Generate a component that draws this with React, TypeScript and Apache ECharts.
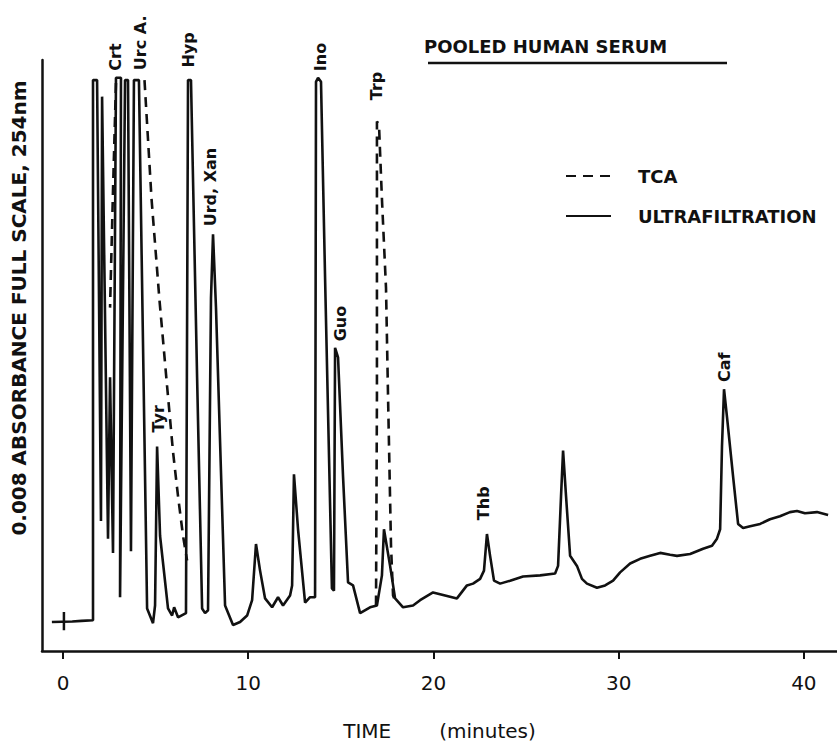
import React, { useEffect, useRef } from "react";
import * as echarts from "echarts";

// Time axis ticks (minutes)
const timeTicks = [0, 10, 20, 30, 40];

// Ultrafiltration trace: [time (min), absorbance (% full scale)]
const ultrafiltration: [number, number][] = [
  [-0.6, 4.9], [0.5, 5.0], [1.0, 5.1], [1.62, 5.2], [1.62, 96.6], [1.84, 96.6],
  [2.05, 22.0], [2.11, 93.8], [2.43, 19.0], [2.54, 46.3], [2.7, 16.6],
  [2.86, 97.0], [3.13, 97.0], [3.08, 9.1], [3.35, 96.6], [3.51, 96.6],
  [3.67, 16.9], [3.83, 96.6], [4.1, 96.6], [4.54, 7.2], [4.86, 4.7],
  [4.97, 7.7], [5.08, 34.6], [5.24, 19.5], [5.67, 7.2], [5.89, 6.0],
  [6.0, 7.4], [6.21, 5.7], [6.64, 6.4], [6.75, 96.6], [6.91, 96.6],
  [7.24, 46.3], [7.51, 7.2], [7.67, 6.4], [7.83, 6.9], [7.99, 59.7],
  [8.1, 70.5], [8.26, 58.1], [8.75, 7.7], [9.18, 4.4], [9.56, 4.9],
  [9.94, 6.0], [10.21, 8.6], [10.42, 18.1], [10.64, 13.6], [10.91, 8.9],
  [11.29, 7.4], [11.61, 9.1], [11.88, 7.7], [12.26, 9.4], [12.37, 11.1],
  [12.47, 29.9], [12.69, 20.6], [13.07, 8.2], [13.34, 9.1], [13.61, 9.1],
  [13.66, 96.3], [13.77, 97.0], [13.93, 96.3], [14.15, 63.1], [14.52, 10.6],
  [14.63, 10.2], [14.69, 51.3], [14.85, 49.7], [15.12, 29.5], [15.39, 11.6],
  [15.66, 11.1], [16.04, 6.4], [16.58, 7.4], [16.95, 7.7], [17.22, 12.8],
  [17.33, 20.6], [17.66, 14.4], [17.93, 8.9], [18.36, 7.4], [18.9, 7.7],
  [19.28, 8.6], [19.98, 9.9], [20.63, 9.4], [21.27, 8.9], [21.81, 11.1],
  [22.14, 11.4], [22.52, 12.2], [22.73, 13.6], [22.89, 19.8], [23.06, 16.1],
  [23.27, 11.9], [23.6, 11.4], [24.14, 11.9], [24.84, 12.6], [25.76, 12.8],
  [26.57, 13.1], [26.73, 14.4], [26.89, 26.2], [27.0, 33.9], [27.16, 26.2],
  [27.38, 16.1], [27.75, 14.4], [28.02, 12.2], [28.29, 11.4], [28.83, 10.7],
  [29.27, 11.1], [29.7, 11.9], [30.08, 13.3], [30.62, 14.8], [31.16, 15.6],
  [31.7, 16.1], [32.24, 16.6], [32.78, 16.3], [33.15, 16.1], [33.86, 16.4],
  [34.56, 17.3], [35.04, 17.8], [35.31, 19.0], [35.48, 20.6], [35.58, 34.6],
  [35.69, 44.3], [35.85, 39.6], [36.18, 29.5], [36.45, 21.5], [36.72, 20.8],
  [37.1, 21.1], [37.64, 21.5], [38.17, 22.3], [38.71, 22.8], [39.25, 23.5],
  [39.63, 23.7], [40.06, 23.3], [40.71, 23.5], [41.31, 23.0],
];

// TCA trace (dashed), only where it departs from the ultrafiltration trace
const tcaCrt: [number, number][] = [[2.86, 96.1], [2.7, 78], [2.54, 58.1]];
const tcaUrc: [number, number][] = [
  [4.4, 96.6], [4.78, 76.5], [5.2, 59.7], [5.6, 45.5], [5.94, 33.7],
  [6.21, 26.2], [6.48, 19.5], [6.7, 15.3],
];
const tcaTrp: [number, number][] = [
  [16.9, 7.7], [16.95, 43.0], [16.95, 89.6], [17.06, 89.1], [17.22, 76.5],
  [17.44, 61.4], [17.55, 43.0], [17.71, 17.8], [17.82, 9.4], [17.98, 8.1],
];

// Injection mark
const injectionMark: [number, number][] = [[0.05, 3.5], [0.05, 6.6]];

// Peak labels
const peakNames = ["Crt", "Urc A.", "Hyp", "Urd, Xan", "Tyr", "Ino", "Trp", "Guo", "Thb", "Caf"];
const peakTimes = [2.81, 4.16, 6.75, 7.94, 5.15, 13.88, 16.9, 14.96, 22.73, 35.69];
const peakLevels = [100.5, 102.9, 101.7, 78.5, 39.3, 100.5, 95.6, 55.4, 25.0, 48.0];

const INK = "#111";
const FONT = "DejaVu Sans";

export default function App() {
  const ref = useRef<HTMLDivElement>(null);

  useEffect(() => {
    document.body.style.margin = "0";
    const chart = echarts.init(ref.current!, null, { renderer: "svg" });
    const lineBase = {
      type: "line",
      symbol: "none",
      showSymbol: false,
      silent: true,
      smooth: false,
    };
    chart.setOption({
      animation: false,
      backgroundColor: "#fff",
      title: {
        text: "POOLED HUMAN SERUM",
        left: 424,
        top: 37,
        padding: 0,
        textStyle: { fontSize: 18, fontWeight: "bold", color: INK, fontFamily: FONT },
      },
      legend: {
        orient: "vertical",
        left: 560,
        top: 162,
        itemWidth: 45,
        itemHeight: 20,
        itemGap: 22,
        data: ["TCA", "ULTRAFILTRATION"],
        itemStyle: { opacity: 0, borderWidth: 0 },
        textStyle: {
          fontSize: 18,
          fontWeight: "bold",
          color: INK,
          fontFamily: FONT,
          padding: [0, 0, 0, 22],
        },
      },
      grid: { left: 42, right: 0, top: 60, bottom: 90, containLabel: false },
      xAxis: {
        type: "value",
        min: -1.134,
        max: 41.79,
        name: "{a|TIME}{b|(minutes)}",
        nameLocation: "middle",
        nameGap: 70,
        nameTextStyle: {
          color: INK,
          fontFamily: FONT,
          fontSize: 20,
          rich: {
            a: { fontSize: 20, fontFamily: FONT, color: INK, padding: [0, 48, 0, 0] },
            b: { fontSize: 20, fontFamily: FONT, color: INK },
          },
        },
        axisLine: { show: true, onZero: false, lineStyle: { color: INK, width: 2.5 } },
        axisTick: { show: true, customValues: timeTicks, length: 8, lineStyle: { color: INK, width: 2 } },
        axisLabel: { show: true, customValues: timeTicks, margin: 22, fontSize: 20, color: INK, fontFamily: FONT },
        splitLine: { show: false },
      },
      yAxis: {
        type: "value",
        min: 0,
        max: 100,
        axisLine: { show: true, onZero: false, lineStyle: { color: INK, width: 2.5 } },
        axisTick: { show: false },
        axisLabel: { show: false },
        splitLine: { show: false },
      },
      graphic: [
        {
          type: "text",
          x: 19,
          y: 308,
          rotation: Math.PI / 2,
          silent: true,
          style: {
            text: "0.008 ABSORBANCE FULL SCALE, 254nm",
            font: `bold 20px "${FONT}"`,
            fill: INK,
            align: "center",
            verticalAlign: "middle",
          },
        },
        {
          type: "line",
          silent: true,
          shape: { x1: 428, y1: 63, x2: 727, y2: 63 },
          style: { stroke: INK, lineWidth: 2.5 },
        },
      ],
      series: [
        {
          ...lineBase,
          name: "ULTRAFILTRATION",
          data: ultrafiltration,
          lineStyle: { color: INK, width: 2.6, type: "solid" },
          itemStyle: { color: INK },
        },
        {
          ...lineBase,
          name: "TCA",
          data: tcaCrt,
          lineStyle: { color: INK, width: 2.6, type: [10, 7] },
          itemStyle: { color: INK },
        },
        {
          ...lineBase,
          name: "TCA",
          data: tcaUrc,
          lineStyle: { color: INK, width: 2.6, type: [10, 7] },
          itemStyle: { color: INK },
        },
        {
          ...lineBase,
          name: "TCA",
          data: tcaTrp,
          lineStyle: { color: INK, width: 2.6, type: [10, 7] },
          itemStyle: { color: INK },
        },
        {
          ...lineBase,
          name: "injection",
          data: injectionMark,
          lineStyle: { color: INK, width: 2.5 },
        },
        {
          type: "scatter",
          name: "peaks",
          silent: true,
          clip: false,
          symbolSize: 1,
          itemStyle: { color: "rgba(0,0,0,0)" },
          data: peakNames.map((n, i) => ({ name: n, value: [peakTimes[i], peakLevels[i]] })),
          label: {
            show: true,
            formatter: "{b}",
            position: "inside",
            rotate: 90,
            fontSize: 16,
            fontWeight: "bold",
            color: INK,
            opacity: 1,
            textBorderWidth: 0,
            textBorderColor: "transparent",
            fontFamily: FONT,
          },
        },
      ],
    });
    return () => chart.dispose();
  }, []);

  return <div ref={ref} style={{ width: 837, height: 746 }} />;
}
